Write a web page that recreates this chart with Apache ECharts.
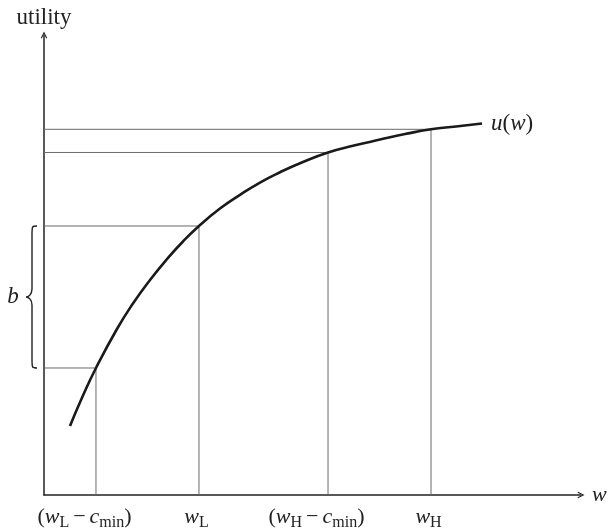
<!DOCTYPE html>
<html>
<head>
<meta charset="utf-8">
<script src="https://cdn.jsdelivr.net/npm/echarts@6/dist/echarts.min.js"></script>
<style>
html, body { margin: 0; padding: 0; background: #fff; }
#chart { width: 611px; height: 531px; }
</style>
</head>
<body>
<div id="chart"></div>
<script>
// curve points (axis units 0..100)
const curveW = [4.84, 7.26, 9.68, 13.59, 16.57, 19.74, 22.91, 25.88, 28.86, 32.77, 36.50, 40.22, 43.95, 47.67, 52.89, 57.73, 62.57, 67.23, 72.07, 76.72, 81.56]
const curveU = [15.00, 21.63, 27.61, 36.09, 41.63, 46.74, 51.30, 55.11, 58.48, 62.28, 65.26, 67.93, 70.17, 72.13, 74.46, 75.96, 77.26, 78.46, 79.50, 80.11, 80.76]

// reference lines: w positions and the utility they hit
const guideW = [9.68, 28.86, 52.89, 72.07]
const guideU = [27.61, 58.48, 74.46, 79.50]

const xTickLabels = [
  '{p|(}{it|w}{sub|L}{op|−}{it|c}{sub|min}{pr|)}',
  '{it|w}{subE|L}',
  '{p|(}{it|w}{sub|H}{op|−}{it|c}{sub|min}{pr|)}',
  '{it|w}{subE|H}'
]

// brace b spans between the two lowest guide utilities
const braceRange = [guideU[0], guideU[1]]

const SERIF = 'Liberation Serif'
const INK = '#222'

const chart = echarts.init(document.getElementById('chart'))

const arrowPath = 'path://M0,10 L5,0 L10,10 L8.4,10.9 L5,3.4 L1.6,10.9 Z'

const guideSeries = guideW.map((w, i) => ({
  type: 'line',
  silent: true,
  symbol: 'none',
  data: [[0, guideU[i]], [w, guideU[i]], [w, 0]],
  lineStyle: { color: '#6a6a6a', width: 1 },
  z: 1
}))

const option = {
  animation: false,
  grid: { left: 44, right: 30, top: 35, bottom: 36 },
  xAxis: {
    type: 'value',
    min: 0,
    max: 100,
    name: 'w',
    nameLocation: 'end',
    nameGap: 11,
    nameTextStyle: { fontFamily: SERIF, fontStyle: 'italic', fontSize: 22, color: INK },
    axisLine: {
      lineStyle: { color: INK, width: 1.5 },
      symbol: ['none', arrowPath],
      symbolSize: [9, 7]
    },
    axisTick: { show: false },
    splitLine: { show: false },
    axisLabel: {
      customValues: guideW,
      margin: 8,
      formatter: (v) => xTickLabels[guideW.indexOf(v)] || '',
      rich: {
        it: { fontFamily: SERIF, fontStyle: 'italic', fontSize: 22, lineHeight: 28, verticalAlign: 'middle', color: INK },
        p: { fontFamily: SERIF, fontSize: 22, lineHeight: 28, verticalAlign: 'middle', color: INK },
        pr: { fontFamily: SERIF, fontSize: 22, lineHeight: 28, verticalAlign: 'middle', color: INK, padding: [0, 23, 0, 0] },
        op: { fontFamily: SERIF, fontSize: 22, lineHeight: 28, verticalAlign: 'middle', color: INK, padding: [0, 4, 0, 4] },
        sub: { fontFamily: SERIF, fontSize: 16, lineHeight: 14, verticalAlign: 'bottom', color: INK },
        subE: { fontFamily: SERIF, fontSize: 16, lineHeight: 14, verticalAlign: 'bottom', color: INK, padding: [0, 5, 0, 0] }
      }
    }
  },
  yAxis: {
    type: 'value',
    min: 0,
    max: 100,
    name: 'utility',
    nameLocation: 'end',
    nameGap: 6,
    nameTextStyle: { fontFamily: SERIF, fontSize: 23, color: INK },
    axisLine: {
      lineStyle: { color: INK, width: 1.5 },
      symbol: ['none', arrowPath],
      symbolSize: [9, 7]
    },
    axisTick: { show: false },
    axisLabel: { show: false },
    splitLine: { show: false }
  },
  series: [
    ...guideSeries,
    {
      type: 'line',
      name: 'u(w)',
      silent: true,
      symbol: 'none',
      smooth: 0.5,
      data: curveW.map((w, i) => [w, curveU[i]]),
      lineStyle: { color: '#1a1a1a', width: 2.6 },
      z: 3,
      endLabel: {
        show: true,
        distance: 9,
        formatter: '{it|u}{p|(}{it|w}{p|)}',
        rich: {
          it: { fontFamily: SERIF, fontStyle: 'italic', fontSize: 23, color: INK },
          p: { fontFamily: SERIF, fontSize: 23, color: INK }
        }
      }
    },
    {
      type: 'custom',
      silent: true,
      clip: false,
      data: [braceRange],
      renderItem: (params, api) => {
        const top = api.coord([0, api.value(1)])
        const bot = api.coord([0, api.value(0)])
        const ax = top[0]
        const t = top[1]
        const b = bot[1]
        const m = (t + b) / 2
        const rx = ax - 7
        const sx = ax - 12
        const tx = ax - 18
        const d = [
          'M', rx, t,
          'C', sx, t, sx, t, sx, t + 9,
          'L', sx, m - 8,
          'C', sx, m - 2, tx + 2, m, tx, m,
          'C', tx + 2, m, sx, m + 2, sx, m + 8,
          'L', sx, b - 9,
          'C', sx, b, sx, b, rx, b
        ].join(' ')
        return {
          type: 'group',
          children: [
            {
              type: 'path',
              shape: { pathData: d },
              style: { stroke: INK, fill: 'none', lineWidth: 1.4 }
            },
            {
              type: 'text',
              style: {
                text: 'b',
                x: ax - 31,
                y: m,
                align: 'center',
                verticalAlign: 'middle',
                fontFamily: SERIF,
                fontStyle: 'italic',
                fontSize: 23,
                fill: INK
              }
            }
          ]
        }
      }
    }
  ]
}

chart.setOption(option)
</script>
</body>
</html>
